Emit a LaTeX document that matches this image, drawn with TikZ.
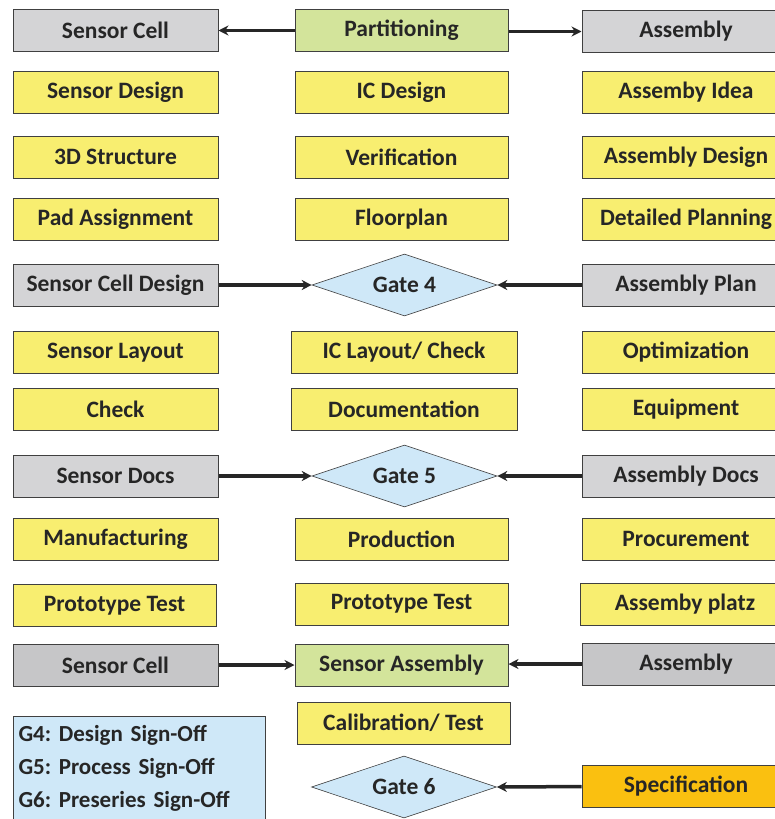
\documentclass[tikz,border=0pt]{standalone}
\usepackage{fontspec}
\setmainfont{Carlito}
\usetikzlibrary{shapes.geometric,arrows.meta}

\definecolor{cellgray}{HTML}{D4D4D6}
\definecolor{darkgray}{HTML}{C6C6C8}
\definecolor{taskyellow}{HTML}{F8EE70}
\definecolor{partgreen}{HTML}{D3E49B}
\definecolor{gateblue}{HTML}{CFE8F8}
\definecolor{specorange}{HTML}{FAC010}
\definecolor{edgegray}{HTML}{404040}

\tikzset{
  box/.style={draw=edgegray, line width=1pt, minimum height=42pt, inner sep=0pt,
    font=\fontsize{23.5}{28}\selectfont\bfseries\frenchspacing, text=black!85},
  cellbox/.style={box, fill=cellgray},
  taskbox/.style={box, fill=taskyellow},
  partbox/.style={box, fill=partgreen},
  gate/.style={diamond, aspect=3, draw=edgegray, line width=0.6pt, fill=gateblue,
    minimum width=185pt, minimum height=62pt, inner sep=0pt,
    font=\fontsize{23.5}{28}\selectfont\bfseries, text=black!85},
  arr/.style={-{Stealth[length=10pt,width=10pt]}, line width=3.5pt, black!85},
}

\begin{document}
\begin{tikzpicture}[x=1pt,y=-1pt]
\useasboundingbox (0,0) rectangle (775,819);

% Left column: sensor
\node[cellbox, minimum width=205pt] (sc1) at (115.5,30.5) {Sensor Cell};
\node[taskbox, minimum width=205pt] (sdes) at (115.5,92) {Sensor Design};
\node[taskbox, minimum width=205pt] (struct) at (115.5,157) {3D Structure};
\node[taskbox, minimum width=205pt] (pad) at (115.5,219.5) {Pad Assignment};
\node[cellbox, minimum width=205pt] (scdes) at (115.5,285) {Sensor Cell Design};
\node[taskbox, minimum width=205pt] (slay) at (115.5,352.5) {Sensor Layout};
\node[taskbox, minimum width=205pt] (check) at (115.5,409.5) {Check};
\node[cellbox, minimum width=205pt] (sdocs) at (115.5,476) {Sensor Docs};
\node[taskbox, minimum width=205pt] (manu) at (115.5,539) {Manufacturing};
\node[taskbox, minimum width=203pt] (sproto) at (114.5,605.5) {Prototype Test};
\node[box, fill=darkgray, minimum width=205pt] (sc2) at (115.5,665) {Sensor Cell};

% Middle column: IC and gates
\node[partbox, minimum width=213pt] (part) at (401.5,30.5) {Partitioning};
\node[taskbox, minimum width=213pt] (icdes) at (401.5,92) {IC Design};
\node[taskbox, minimum width=213pt] (verif) at (401.5,157) {Verification};
\node[taskbox, minimum width=213pt] (floor) at (401.5,219.5) {Floorplan};
\node[gate] (g4) at (404.5,285) {Gate 4};
\node[taskbox, minimum width=226pt] (iclay) at (404,352.5) {IC Layout/ Check};
\node[taskbox, minimum width=226pt] (doc) at (404,409.5) {Documentation};
\node[gate] (g5) at (404.5,476) {Gate 5};
\node[taskbox, minimum width=213pt] (prod) at (401.5,539) {Production};
\node[taskbox, minimum width=213pt] (icproto) at (401.5,604) {Prototype Test};
\node[partbox, minimum width=213pt] (sass) at (401.5,665) {Sensor Assembly};
\node[taskbox, minimum width=213pt] (calib) at (403.5,723) {Calibration/ Test};
\node[gate] (g6) at (404,787) {Gate 6};

% Right column: assembly
\node[cellbox, minimum width=208pt] (as1) at (686,31.5) {Assembly};
\node[taskbox, minimum width=208pt] (aidea) at (686,92) {Assemby Idea};
\node[taskbox, minimum width=208pt] (ades) at (686,157) {Assembly Design};
\node[taskbox, minimum width=208pt] (plan) at (686,219.5) {Detailed Planning};
\node[cellbox, minimum width=208pt] (aplan) at (686,285) {Assembly Plan};
\node[taskbox, minimum width=208pt] (opt) at (686,352.5) {Optimization};
\node[taskbox, minimum width=208pt] (equip) at (686,409.5) {Equipment};
\node[cellbox, minimum width=208pt] (adocs) at (686,476) {Assembly Docs};
\node[taskbox, minimum width=208pt] (proc) at (686,539) {Procurement};
\node[taskbox, minimum width=210pt] (platz) at (685,604) {Assemby platz};
\node[box, fill=darkgray, minimum width=208pt] (as2) at (686,664) {Assembly};
\node[box, fill=specorange, minimum width=208pt] (spec) at (686,786) {Specification};

% Legend
\node[draw=edgegray, line width=1pt, fill=gateblue, anchor=north west,
  minimum width=252pt, text width=242pt, align=left, inner xsep=5pt, inner ysep=9pt,
  font=\fontsize{23}{33}\selectfont\bfseries\frenchspacing, text=black!85] (legend) at (13,716)
  {G4: Design Sign-Off\\G5: Process Sign-Off\\G6: Preseries Sign-Off};

% Arrows
\draw[arr] (part) -- (sc1);
\draw[arr, line width=2.2pt] (part.east |- as1) -- (as1);
\draw[arr] (scdes) -- (g4.west);
\draw[arr] (aplan) -- (g4.east);
\draw[arr] (sdocs) -- (g5.west);
\draw[arr] (adocs) -- (g5.east);
\draw[arr] (sc2) -- (sass);
\draw[arr] (as2.west) -- (sass.east |- as2.west);
\draw[arr] (spec) -- (g6.east);

\end{tikzpicture}
\end{document}
